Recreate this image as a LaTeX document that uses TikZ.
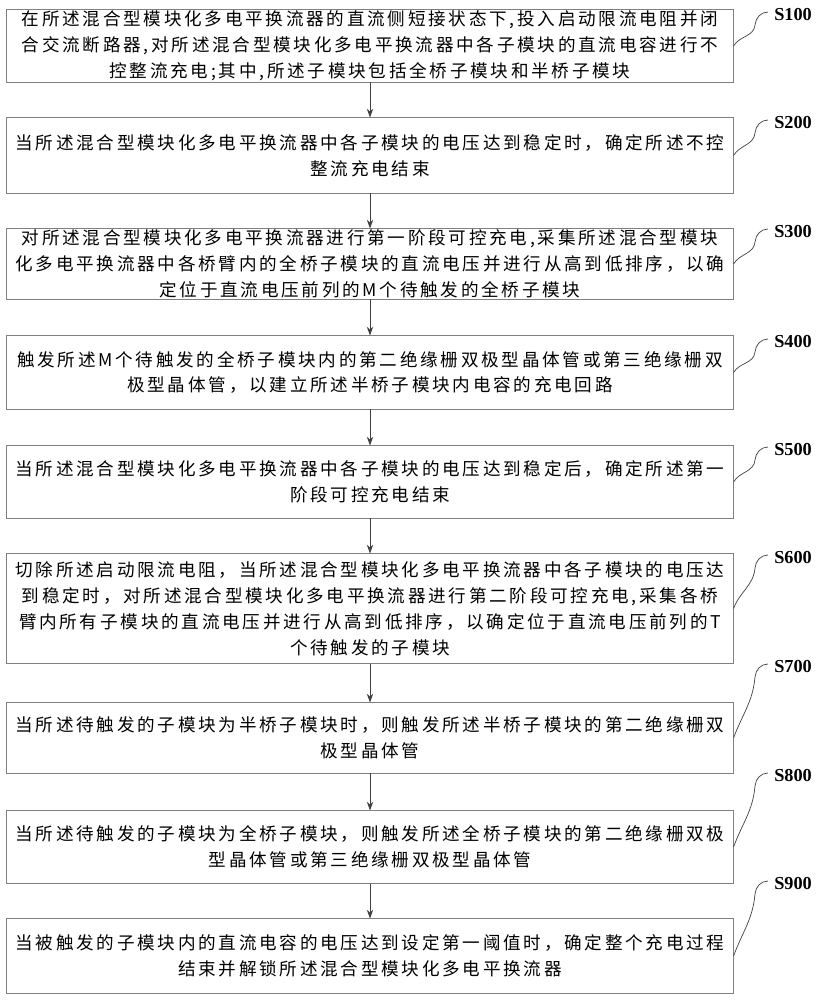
\documentclass[tikz,border=0pt]{standalone}
\usepackage{fontspec}
\setmainfont{Liberation Serif}
\newfontfamily\cjk[LetterSpace=15.7]{Noto Sans CJK SC}
\usepackage{tikz}
\usetikzlibrary{arrows.meta,positioning,calc}
\definecolor{stepgray}{RGB}{128,128,128}
\definecolor{arrgray}{RGB}{64,64,64}

\begin{document}
\begin{tikzpicture}[x=0.025cm, y=0.025cm,
    stepbox/.style={draw=stepgray, line width=0.7pt, minimum width=18.15cm,
                  inner sep=0pt, align=center,
                  font=\cjk\fontsize{12.5pt}{18.4pt}\selectfont},
    tag/.style={anchor=west, inner sep=0pt, font=\fontsize{13pt}{14pt}\selectfont\bfseries},
    arr/.style={-{Stealth[length=2.2mm, width=1.6mm]}, arrgray, line width=0.6pt},
    lead/.style={draw=arrgray, line width=0.5pt}
]
    \useasboundingbox (0,0) rectangle (817,1000);

    \node[stepbox, minimum height=1.8cm]   (S1) at (370,954)   {在所述混合型模块化多电平换流器的直流侧短接状态下,投入启动限流电阻并闭\\合交流断路器,对所述混合型模块化多电平换流器中各子模块的直流电容进行不\\控整流充电;其中,所述子模块包括全桥子模块和半桥子模块};
    \node[stepbox, minimum height=1.875cm] (S2) at (370,844.5) {当所述混合型模块化多电平换流器中各子模块的电压达到稳定时，确定所述不控\\整流充电结束};
    \node[stepbox, minimum height=1.75cm]  (S3) at (370,736)   {对所述混合型模块化多电平换流器进行第一阶段可控充电,采集所述混合型模块\\化多电平换流器中各桥臂内的全桥子模块的直流电压并进行从高到低排序，以确\\定位于直流电压前列的M个待触发的全桥子模块};
    \node[stepbox, minimum height=1.825cm] (S4) at (370,627.5) {触发所述M个待触发的全桥子模块内的第二绝缘栅双极型晶体管或第三绝缘栅双\\极型晶体管，以建立所述半桥子模块内电容的充电回路};
    \node[stepbox, minimum height=1.8cm]   (S5) at (370,518)   {当所述混合型模块化多电平换流器中各子模块的电压达到稳定后，确定所述第一\\阶段可控充电结束};
    \node[stepbox, minimum height=2.725cm] (S6) at (370,391.5) {切除所述启动限流电阻，当所述混合型模块化多电平换流器中各子模块的电压达\\到稳定时，对所述混合型模块化多电平换流器进行第二阶段可控充电,采集各桥\\臂内所有子模块的直流电压并进行从高到低排序，以确定位于直流电压前列的T\\个待触发的子模块};
    \node[stepbox, minimum height=1.75cm]  (S7) at (370,262)   {当所述待触发的子模块为半桥子模块时，则触发所述半桥子模块的第二绝缘栅双\\极型晶体管};
    \node[stepbox, minimum height=1.8cm]   (S8) at (370,153)   {当所述待触发的子模块为全桥子模块，则触发所述全桥子模块的第二绝缘栅双极\\型晶体管或第三绝缘栅双极型晶体管};
    \node[stepbox, minimum height=1.85cm]  (S9) at (370,44)    {当被触发的子模块内的直流电容的电压达到设定第一阈值时，确定整个充电过程\\结束并解锁所述混合型模块化多电平换流器};

    % step labels
    \node[tag] (T1) at (774,985) {S100};
    \node[tag] (T2) at (774,877) {S200};
    \node[tag] (T3) at (774,768) {S300};
    \node[tag] (T4) at (774,658) {S400};
    \node[tag] (T5) at (774,550) {S500};
    \node[tag] (T6) at (774,442) {S600};
    \node[tag] (T7) at (774,333) {S700};
    \node[tag] (T8) at (774,224) {S800};
    \node[tag] (T9) at (774,116) {S900};

    \draw[arr] (S1) -- (S2);
    \draw[arr] (S2) -- (S3);
    \draw[arr] (S3) -- (S4);
    \draw[arr] (S4) -- (S5);
    \draw[arr] (S5) -- (S6);
    \draw[arr] (S6) -- (S7);
    \draw[arr] (S7) -- (S8);
    \draw[arr] (S8) -- (S9);

    % leaders from boxes to labels
    \draw[lead] (S1.east) to[out=60,in=-95] ($(T1.west)+(-19,-10)$) to[out=85,in=180] ($(T1.west)+(-6,3)$);
    \draw[lead] (S2.east) to[out=60,in=-95] ($(T2.west)+(-19,-10)$) to[out=85,in=180] ($(T2.west)+(-6,3)$);
    \draw[lead] (S3.east) to[out=60,in=-95] ($(T3.west)+(-19,-10)$) to[out=85,in=180] ($(T3.west)+(-6,3)$);
    \draw[lead] (S4.east) to[out=60,in=-95] ($(T4.west)+(-19,-10)$) to[out=85,in=180] ($(T4.west)+(-6,3)$);
    \draw[lead] (S5.east) to[out=60,in=-95] ($(T5.west)+(-19,-10)$) to[out=85,in=180] ($(T5.west)+(-6,3)$);
    \draw[lead] (S6.east) to[out=70,in=-95] ($(T6.west)+(-19,-10)$) to[out=85,in=180] ($(T6.west)+(-6,3)$);
    \draw[lead] (S7.east) to[out=70,in=-95] ($(T7.west)+(-19,-10)$) to[out=85,in=180] ($(T7.west)+(-6,3)$);
    \draw[lead] (S8.east) to[out=70,in=-95] ($(T8.west)+(-19,-10)$) to[out=85,in=180] ($(T8.west)+(-6,3)$);
    \draw[lead] (S9.east) to[out=70,in=-95] ($(T9.west)+(-19,-10)$) to[out=85,in=180] ($(T9.west)+(-6,3)$);
\end{tikzpicture}
\end{document}
